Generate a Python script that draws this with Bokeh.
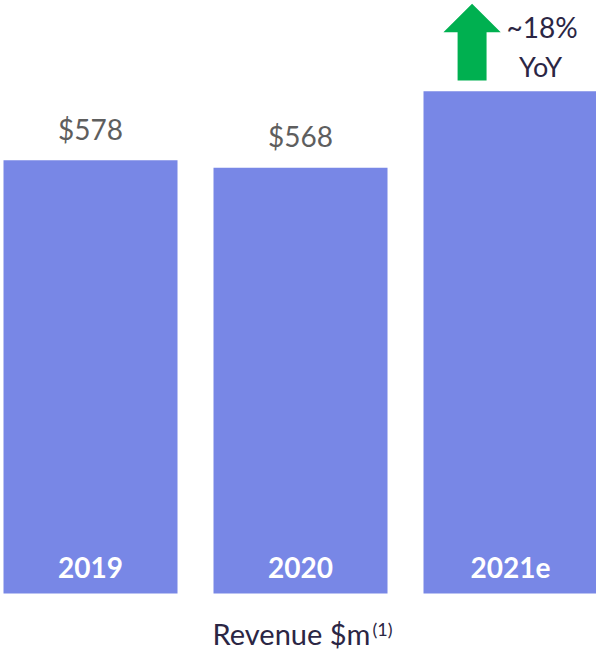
from bokeh.plotting import figure
from bokeh.models import Range1d, ColumnDataSource
from bokeh.core.properties import value
from bokeh.embed import file_html
from bokeh.resources import INLINE

# ---- data ----
categories = ["2019", "2020", "2021e"]
revenue = [578, 568, 670]
value_labels = ["$578", "$568", ""]
growth_lines = ["~18%", "YoY"]
axis_title = "Revenue $m"
footnote = "(1)"

# ---- style ----
BAR = "#7887E6"
GRAY = "#5E5E5E"
DARK = "#2B2644"
GREEN = "#00B050"
FONT = "Lato"

W, H = 596, 650
bar_w = 0.8286
x0 = -0.4286
BL = 0.37  # baseline correction (fraction of font size)

p = figure(width=W, height=H, output_backend="svg", toolbar_location=None,
           x_range=Range1d(x0, x0 + W / 210.0),
           y_range=Range1d(-76.05, 791.2), min_border=0,
           background_fill_color="white", border_fill_color="white")
p.axis.visible = False
p.grid.visible = False
p.outline_line_color = None

xs = list(range(len(categories)))
src = ColumnDataSource(dict(x=xs, top=revenue, cat=categories, lab=value_labels,
                            zero=[0] * len(xs)))
p.vbar(x="x", top="top", bottom=0, width=bar_w, source=src,
       fill_color=BAR, line_color=None)

# value labels above bars
p.text(x="x", y="top", text="lab", source=src, y_offset=-21 - BL * 28,
       text_align="center", text_baseline="alphabetic",
       text_font=value(FONT), text_font_size="28px", text_color=GRAY)

# year labels inside bars
p.text(x="x", y="zero", text="cat", source=src, y_offset=-16 - BL * 28,
       text_align="center", text_baseline="alphabetic",
       text_font=value(FONT), text_font_size="28px", text_font_style="bold",
       text_color="white")

# growth arrow above last bar
i = len(categories) - 1
top = revenue[i]
cx = i - 0.183
sh, hh = 0.069, 0.1364
shaft_bot, head_base, tip = top + 14.5, top + 79, top + 116.8
p.patch(x=[cx - sh, cx + sh, cx + sh, cx + hh, cx, cx - hh, cx - sh],
        y=[shaft_bot, shaft_bot, head_base, head_base, tip, head_base, head_base],
        fill_color=GREEN, line_color=None)
p.text(x=[i - 0.019], y=[top + 71.4], text=[growth_lines[0]], y_offset=-BL * 28,
       text_align="left", text_baseline="alphabetic",
       text_font=value(FONT), text_font_size="28px", text_color=DARK)
p.text(x=[i + 0.143], y=[top + 19.8], text=[growth_lines[1]], y_offset=-BL * 27,
       text_align="center", text_baseline="alphabetic",
       text_font=value(FONT), text_font_size="27px", text_color=DARK)

# axis title
p.text(x=[1.333], y=[-70.7], text=[axis_title], y_offset=-BL * 29 - 2,
       text_align="right", text_baseline="alphabetic",
       text_font=value(FONT), text_font_size="29px", text_color=DARK)
p.text(x=[1.343], y=[-58.7], text=[footnote], y_offset=-BL * 18 - 2,
       text_align="left", text_baseline="alphabetic",
       text_font=value(FONT), text_font_size="18px", text_color=DARK)

open("out.html", "w").write(file_html(p, INLINE))
